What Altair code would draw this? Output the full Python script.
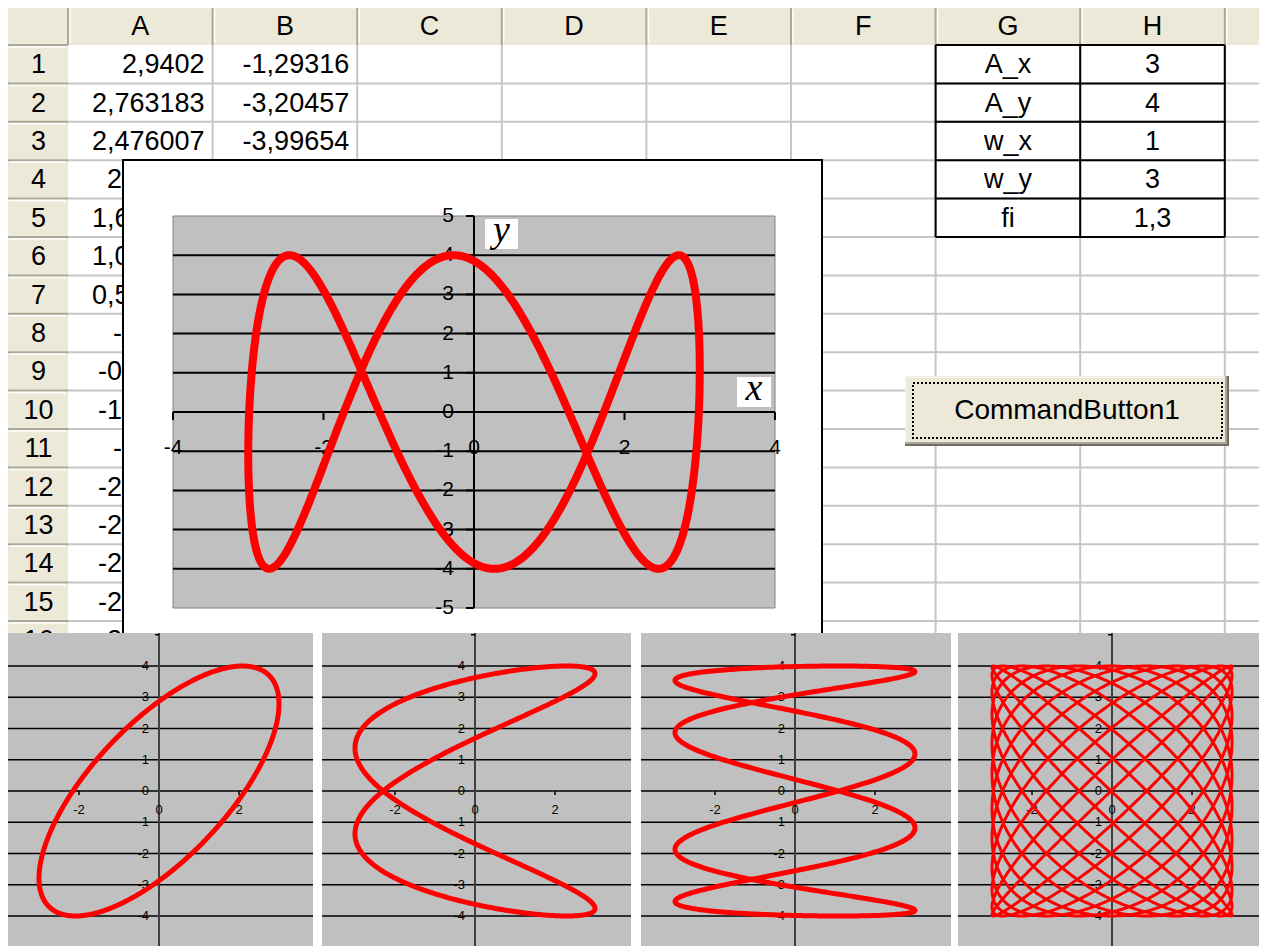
import numpy as np
import pandas as pd
import altair as alt

alt.data_transformers.disable_max_rows()

# ---------------- data ----------------
col_letters = ["A", "B", "C", "D", "E", "F", "G", "H"]
row_numbers = [str(i) for i in range(1, 17)]
col_a_values = ["2,9402", "2,763183", "2,476007", "2,09012", "1,620907", "1,087073",
                "0,509901", "-0,0876", "-0,68161", "-1,24844", "-1,7655", "-2,21218",
                "-2,57067", "-2,82667", "-2,96998", "-2,99488"]
col_b_values = ["-1,29316", "-3,20457", "-3,99654"]
param_names = ["A_x", "A_y", "w_x", "w_y", "fi"]
param_values = ["3", "4", "1", "3", "1,3"]
button_label = "CommandButton1"

# curve parameters: main chart from the G/H table, small panels estimated from their shapes
main_params = {"A_x": 3, "A_y": 4, "w_x": 1, "w_y": 3, "fi": 1.3}
panel_params = [
    {"A_x": 3, "A_y": 4, "w_x": 1, "w_y": 1, "fi": 0.8},
    {"A_x": 3, "A_y": 4, "w_x": 2, "w_y": 1, "fi": 0.35},
    {"A_x": 3, "A_y": 4, "w_x": 4, "w_y": 1, "fi": 0.30},
    {"A_x": 3, "A_y": 4, "w_x": 12, "w_y": 11, "fi": 0.4},
]
main_x_ticks = [-4, -2, 0, 2, 4]
main_y_ticks = [-5, -4, -3, -2, -1, 0, 1, 2, 3, 4, 5]
main_grid = [-4, -3, -2, -1, 0, 1, 2, 3, 4]
panel_x_ticks = [-2, 0, 2]
panel_y_ticks = [-4, -3, -2, -1, 0, 1, 2, 3, 4]

# ---------------- layout (pixels of the screenshot) ----------------
W, H = 1251, 938
OFF = 8
PX = alt.Scale(domain=[OFF, OFF + W], range=[0, W], nice=False, zero=False)
PY = alt.Scale(domain=[OFF, OFF + H], range=[0, H], nice=False, zero=False)

SHEET_L, SHEET_T = 7, 7
HDR_B, RHDR_R = 45, 68
COL_W, ROW_H = 144.6, 38.4
SHEET_R, SHEET_B = 1267, 633
col_edges = [RHDR_R + i * COL_W for i in range(9)]
row_edges = [HDR_B + j * ROW_H for j in range(17)]
BOX_L, BOX_R, BOX_T, BOX_B = 123, 822, 160, 660

SHEET_FONT = "Liberation Sans"
SHEET_SIZE = 27
HDR_FILL = "#ECE9D8"
HDR_LINE = "#ACA899"
GRID = "#C6C6C6"
# Arial/Liberation advance widths (em) used to find where right-aligned cell text starts
ADV = {"-": 0.333, ",": 0.278}


def text_width(s, size):
    return sum(ADV.get(c, 0.556) for c in s) * size


def rects(df, xs, ys, **kw):
    return alt.Chart(df).mark_rect(**kw).encode(
        x=alt.X("x0:Q", scale=xs, axis=None), x2="x1:Q",
        y=alt.Y("y0:Q", scale=ys, axis=None), y2="y1:Q")


def rules(df, xs, ys, **kw):
    return alt.Chart(df).mark_rule(**kw).encode(
        x=alt.X("x0:Q", scale=xs, axis=None), x2="x1:Q",
        y=alt.Y("y0:Q", scale=ys, axis=None), y2="y1:Q")


def texts(df, xs, ys, align="center", **kw):
    return alt.Chart(df).mark_text(align=align, baseline="middle", **kw).encode(
        x=alt.X("x:Q", scale=xs, axis=None), y=alt.Y("y:Q", scale=ys, axis=None),
        text="t:N")


def box(x0, x1, y0, y1):
    return pd.DataFrame({"x0": [x0], "x1": [x1], "y0": [y0], "y1": [y1]})


def lissajous(p, n):
    t = np.linspace(0, 2 * np.pi, n)
    return pd.DataFrame({"i": np.arange(n),
                         "x": p["A_x"] * np.cos(p["w_x"] * t),
                         "y": p["A_y"] * np.cos(p["w_y"] * t + p["fi"])})


def row_center(j):
    return row_edges[j] + ROW_H / 2 + 1


layers = []

# ---------------- spreadsheet ----------------
layers.append(rects(pd.concat([box(SHEET_L, SHEET_R, SHEET_T, HDR_B),
                               box(SHEET_L, RHDR_R, HDR_B, SHEET_B)]), PX, PY, fill=HDR_FILL))
vlines = pd.DataFrame({"x0": col_edges[1:], "x1": col_edges[1:],
                       "y0": HDR_B, "y1": SHEET_B})
hlines = pd.DataFrame({"x0": RHDR_R, "x1": SHEET_R,
                       "y0": row_edges[1:], "y1": row_edges[1:]})
layers.append(rules(pd.concat([vlines, hlines]), PX, PY, color=GRID, strokeWidth=2))
hsep_v = pd.DataFrame({"x0": col_edges, "x1": col_edges, "y0": SHEET_T, "y1": HDR_B})
hsep_h = pd.DataFrame({"x0": SHEET_L, "x1": RHDR_R, "y0": row_edges, "y1": row_edges})
layers.append(rules(pd.concat([hsep_v, hsep_h]), PX, PY, color=HDR_LINE, strokeWidth=2))
hl_v = pd.DataFrame({"x0": [e + 2 for e in col_edges], "x1": [e + 2 for e in col_edges],
                     "y0": SHEET_T + 2, "y1": HDR_B - 2})
hl_h = pd.DataFrame({"x0": SHEET_L + 2, "x1": RHDR_R - 2,
                     "y0": [e + 2 for e in row_edges], "y1": [e + 2 for e in row_edges]})
layers.append(rules(pd.concat([hl_v, hl_h]), PX, PY, color="#FFFFFF", strokeWidth=1.5))
frame = pd.concat([box(SHEET_L, SHEET_L, SHEET_T, SHEET_B), box(SHEET_L, SHEET_R, SHEET_T, SHEET_T)])
layers.append(rules(frame, PX, PY, color="#707070", strokeWidth=2))

col_hdr = pd.DataFrame({"x": [col_edges[i] + COL_W / 2 for i in range(8)],
                        "y": (SHEET_T + HDR_B) / 2 + 1, "t": col_letters})
row_hdr = pd.DataFrame({"x": (SHEET_L + RHDR_R) / 2 + 1,
                        "y": [row_center(j) for j in range(16)], "t": row_numbers})
layers.append(texts(pd.concat([col_hdr, row_hdr]), PX, PY, font=SHEET_FONT,
                    fontSize=SHEET_SIZE, color="#000000"))

# cell values: rows fully visible
A_RIGHT = col_edges[1] - 8
B_RIGHT = col_edges[2] - 8
cell_a = pd.DataFrame({"x": A_RIGHT, "y": [row_center(j) for j in range(3)], "t": col_a_values[:3]})
cell_b = pd.DataFrame({"x": B_RIGHT, "y": [row_center(j) for j in range(3)], "t": col_b_values})
layers.append(texts(pd.concat([cell_a, cell_b]), PX, PY, align="right", font=SHEET_FONT,
                    fontSize=SHEET_SIZE, color="#000000"))
# cell values cut off by the chart object: text is cut a little past the object's edge,
# the object (drawn later) hides the remainder
for j in range(3, 16):
    v = col_a_values[j]
    start = A_RIGHT - text_width(v, SHEET_SIZE)
    lim = max(BOX_L - start + 15, 1)
    layers.append(texts(pd.DataFrame({"x": [start], "y": [row_center(j)], "t": [v]}), PX, PY,
                        align="left", font=SHEET_FONT, fontSize=SHEET_SIZE, color="#000000",
                        limit=lim, ellipsis="\u200b"))

# parameter table G/H
tv = pd.DataFrame({"x0": col_edges[6:9], "x1": col_edges[6:9], "y0": HDR_B, "y1": row_edges[5]})
th = pd.DataFrame({"x0": col_edges[6], "x1": col_edges[8], "y0": row_edges[:6], "y1": row_edges[:6]})
layers.append(rules(pd.concat([tv, th]), PX, PY, color="#000000", strokeWidth=2))
tg = pd.DataFrame({"x": col_edges[6] + COL_W / 2,
                   "y": [row_center(j) for j in range(5)], "t": param_names})
th_ = pd.DataFrame({"x": col_edges[7] + COL_W / 2,
                    "y": [row_center(j) for j in range(5)], "t": param_values})
layers.append(texts(pd.concat([tg, th_]), PX, PY, font=SHEET_FONT, fontSize=SHEET_SIZE,
                    color="#000000"))

# command button
layers.append(rects(box(905, 1229, 376, 446), PX, PY, fill="#716F64"))
layers.append(rects(box(905, 1227, 376, 444), PX, PY, fill="#ACA899"))
layers.append(rects(box(905, 1225, 376, 442), PX, PY, fill="#F4F2E8"))
layers.append(rects(box(907, 1225, 378, 442), PX, PY, fill=HDR_FILL))
layers.append(rects(box(913, 1222, 383, 438), PX, PY, fill="transparent", stroke="#000000",
                    strokeWidth=2, strokeDash=[2, 2]))
layers.append(texts(pd.DataFrame({"x": [1067], "y": [411], "t": [button_label]}), PX, PY,
                    font=SHEET_FONT, fontSize=28, color="#000000"))

# chart object box
layers.append(rects(box(BOX_L, BOX_R, BOX_T, BOX_B), PX, PY, fill="#FFFFFF", stroke="#000000",
                    strokeWidth=2))

# ---------------- main chart ----------------
MX = alt.Scale(domain=[-4, 4], range=[173 - OFF, 775 - OFF], nice=False, zero=False)
MY = alt.Scale(domain=[-5, 5], range=[608 - OFF, 216 - OFF], nice=False, zero=False)
UX, UY = 75.25, 39.2
layers.append(rects(box(-4, 4, -5, 5), MX, MY, fill="#C0C0C0", stroke="#808080", strokeWidth=1))
layers.append(rules(pd.DataFrame({"x0": -4, "x1": 4, "y0": main_grid, "y1": main_grid}), MX, MY,
                    color="#000000", strokeWidth=2))
layers.append(rules(box(0, 0, -5, 5), MX, MY, color="#000000", strokeWidth=2))
layers.append(rules(pd.DataFrame({"x0": 0, "x1": -8 / UX, "y0": main_y_ticks, "y1": main_y_ticks}),
                    MX, MY, color="#000000", strokeWidth=2))
xt = [v for v in main_x_ticks if v != 0]
layers.append(rules(pd.DataFrame({"x0": xt, "x1": xt, "y0": 0, "y1": -8 / UY}), MX, MY,
                    color="#000000", strokeWidth=2))
layers.append(texts(pd.DataFrame({"x": 0.0, "y": main_y_ticks, "t": [str(v) for v in main_y_ticks]}),
                    MX, MY, align="right", dx=-20, font="Liberation Sans", fontSize=21,
                    color="#000000"))
layers.append(texts(pd.DataFrame({"x": main_x_ticks, "y": 0.0, "t": [str(v) for v in main_x_ticks]}),
                    MX, MY, dy=36, font="Liberation Sans", fontSize=21, color="#000000"))
layers.append(alt.Chart(lissajous(main_params, 1200)).mark_line(
    color="#FF0000", strokeWidth=8, strokeCap="round", strokeJoin="round").encode(
    x=alt.X("x:Q", scale=MX, axis=None), y=alt.Y("y:Q", scale=MY, axis=None), order="i:Q"))
layers.append(rects(pd.concat([box(485, 518, 219, 249), box(737, 771, 377, 407)]), PX, PY,
                    fill="#FFFFFF"))
layers.append(texts(pd.DataFrame({"x": [501.5, 754], "y": [231, 389], "t": ["y", "x"]}), PX, PY,
                    font="Liberation Serif", fontStyle="italic", fontSize=38, color="#000000"))

# ---------------- bottom panels ----------------
layers.append(rects(box(0, 1267, 633, 946), PX, PY, fill="#FFFFFF"))

PANEL_T, PANEL_B = 633, 946
PY0, PUX, PUY = 791, 40, 31.25
panels = [(0, 313, 159), (322, 631, 475), (641, 951, 795), (958, 1267, 1112)]
widths = [5, 5, 5, 3]

for (gl, gr, x0), p, sw in zip(panels, panel_params, widths):
    xd = [(gl - x0) / PUX, (gr - x0) / PUX]
    yd = [(PY0 - PANEL_B) / PUY, (PY0 - PANEL_T) / PUY]
    SX = alt.Scale(domain=xd, range=[gl - OFF, gr - OFF], nice=False, zero=False)
    SY = alt.Scale(domain=yd, range=[PANEL_B - OFF, PANEL_T - OFF], nice=False, zero=False)
    layers.append(rects(box(xd[0], xd[1], yd[0], yd[1]), SX, SY, fill="#C0C0C0"))
    layers.append(rules(pd.DataFrame({"x0": xd[0], "x1": xd[1], "y0": panel_y_ticks,
                                      "y1": panel_y_ticks}), SX, SY,
                        color="#000000", strokeWidth=1.5))
    layers.append(rules(box(0, 0, yd[0], yd[1]), SX, SY, color="#404040", strokeWidth=2))
    pxt = [v for v in panel_x_ticks if v != 0]
    layers.append(rules(pd.DataFrame({"x0": pxt, "x1": pxt, "y0": 0, "y1": -4 / PUY}), SX, SY,
                        color="#000000", strokeWidth=1.5))
    layers.append(rules(pd.DataFrame({"x0": 0, "x1": -4 / PUX, "y0": [5], "y1": [5]}), SX, SY,
                        color="#000000", strokeWidth=1.5))
    layers.append(texts(pd.DataFrame({"x": 0.0, "y": panel_y_ticks,
                                      "t": [str(v) for v in panel_y_ticks]}), SX, SY,
                        align="right", dx=-10, font="Liberation Sans", fontSize=13,
                        color="#000000"))
    layers.append(texts(pd.DataFrame({"x": panel_x_ticks, "y": 0.0,
                                      "t": [str(v) for v in panel_x_ticks]}), SX, SY,
                        dy=19, font="Liberation Sans", fontSize=13, color="#000000"))
    n = 800 if p["w_x"] < 5 else 5000
    layers.append(alt.Chart(lissajous(p, n)).mark_line(
        color="#FF0000", strokeWidth=sw, strokeCap="round", strokeJoin="round").encode(
        x=alt.X("x:Q", scale=SX, axis=None), y=alt.Y("y:Q", scale=SY, axis=None), order="i:Q"))

chart = alt.layer(*layers).resolve_scale(x="independent", y="independent").properties(
    width=W, height=H, autosize=alt.AutoSizeParams(type="none"), padding=0
).configure_view(stroke=None)

chart.save("out.html", embed_options={"renderer": "svg", "actions": False})
